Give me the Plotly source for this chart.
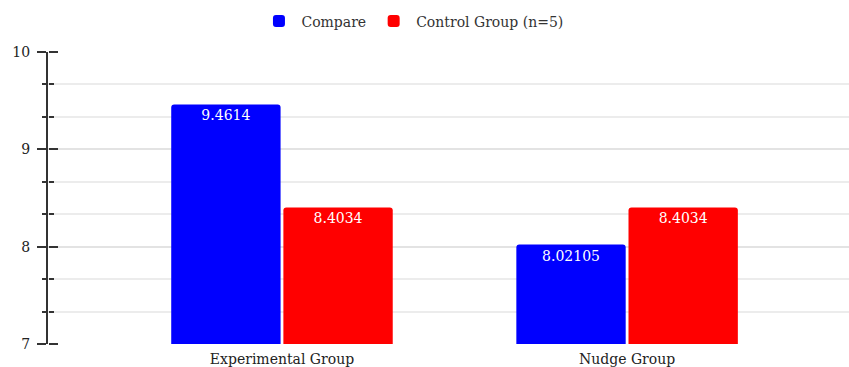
import plotly.graph_objects as go

categories = ["Experimental Group", "Nudge Group"]
compare_values = [9.4614, 8.02105]
control_values = [8.4034, 8.4034]
compare_labels = ["9.4614", "8.02105"]
control_labels = ["8.4034", "8.4034"]
y_range = [7, 10]

FONT = "DejaVu Serif"
AXIS_DARK = "#333333"

fig = go.Figure()
fig.add_trace(go.Bar(
    name="Compare", x=categories, y=compare_values,
    text=compare_labels, textposition="inside", insidetextanchor="end",
    textfont=dict(color="white", size=14, family=FONT),
    marker=dict(color="#0000ff", cornerradius=3, line=dict(width=0)),
))
fig.add_trace(go.Bar(
    name="Control Group (n=5)", x=categories, y=control_values,
    text=control_labels, textposition="inside", insidetextanchor="end",
    textfont=dict(color="white", size=14, family=FONT),
    marker=dict(color="#ff0000", cornerradius=3, line=dict(width=0)),
))

# invisible helper trace so the second axis (right half of the crossing ticks) is drawn
fig.add_trace(go.Scatter(
    x=categories, y=y_range, yaxis="y2", mode="markers",
    marker=dict(opacity=0, size=1), showlegend=False, hoverinfo="skip",
))

tick_common = dict(range=y_range, dtick=1, tick0=7, zeroline=False, tickwidth=2, tickcolor=AXIS_DARK)

fig.update_layout(
    width=849, height=367,
    margin=dict(l=48, r=0, t=52, b=23),
    paper_bgcolor="white", plot_bgcolor="white",
    font=dict(family=FONT, size=14, color="#333333"),
    barmode="group", bargap=0.35, bargroupgap=0.025,
    legend=dict(orientation="h", x=0.455, xanchor="center", y=0.985, yanchor="top",
                yref="container", font=dict(size=14, color="#333333"),
                itemwidth=35, traceorder="normal"),
    xaxis=dict(range=[-0.678, 1.643], showgrid=False, showline=False, ticks="",
               tickfont=dict(size=14, color="#222222"), ticklabelstandoff=5),
    yaxis=dict(**tick_common, showgrid=True, gridcolor="#e3e3e3", gridwidth=1.5,
               showline=True, linecolor=AXIS_DARK, linewidth=2,
               ticks="outside", ticklen=9,
               tickfont=dict(size=14, color="#222222"), ticklabelstandoff=4,
               minor=dict(dtick=1/3, tick0=7, showgrid=True, gridcolor="#ececec", gridwidth=1.5,
                          ticks="outside", ticklen=4, tickwidth=2, tickcolor=AXIS_DARK)),
    yaxis2=dict(**tick_common, overlaying="y", anchor="free", position=0, side="right",
                showgrid=False, showline=False, showticklabels=False,
                ticks="outside", ticklen=9,
                minor=dict(dtick=1/3, tick0=7, showgrid=False, ticks="outside", ticklen=5,
                           tickwidth=2, tickcolor=AXIS_DARK)),
)

fig.write_html("out.html")
